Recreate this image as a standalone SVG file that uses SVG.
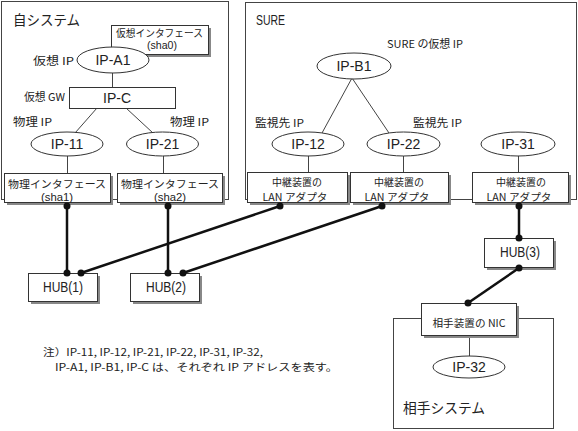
<svg xmlns="http://www.w3.org/2000/svg" width="578" height="431" viewBox="0 0 578 431">
<style>
.frame{fill:none;stroke:#444;stroke-width:1}
.box{fill:#fff;stroke:#333;stroke-width:1}
.sh{fill:#888}
.ell{fill:#fff;stroke:#333;stroke-width:1}
.thin{stroke:#444;stroke-width:1;fill:none}
.thick{stroke:#111;stroke-width:2.5;fill:none}
.dot{fill:#111}
.jp{font-family:"Noto Sans CJK JP","Liberation Sans",sans-serif;fill:#222}
.la{font-family:"Liberation Sans",sans-serif;fill:#222;font-size:14px}
.lt{font-family:"Liberation Sans",sans-serif;fill:#222}
.s10{font-size:10px}
.s105{font-size:10.5px}
.s11{font-size:11px}
.s14{font-size:14px}
.m{text-anchor:middle}
</style>
<rect width="578" height="431" fill="#fff"/>
<g id="frames">
<rect id="self-system-frame" class="frame" x="1.5" y="1.5" width="227" height="198"/>
<rect id="sure-frame" class="frame" x="245.5" y="2.5" width="331" height="197"/>
<rect id="peer-system-frame" class="frame" x="393.5" y="318.5" width="160" height="110"/>
</g>
<g id="connectors">
<line class="thin" x1="112.5" y1="73" x2="112.5" y2="87"/>
<line class="thin" x1="97" y1="108" x2="75" y2="133"/>
<line class="thin" x1="126" y1="108" x2="153" y2="133"/>
<line class="thin" x1="67.5" y1="156" x2="67.5" y2="173"/>
<line class="thin" x1="163.5" y1="156" x2="163.5" y2="173"/>
<line class="thin" x1="352" y1="78" x2="322" y2="133"/>
<line class="thin" x1="352" y1="78" x2="389" y2="133"/>
<line class="thin" x1="308.5" y1="155" x2="308.5" y2="172"/>
<line class="thin" x1="403.5" y1="155" x2="403.5" y2="172"/>
<line class="thin" x1="518.5" y1="155" x2="518.5" y2="172"/>
<line class="thin" x1="469.5" y1="335" x2="469.5" y2="356"/>
</g>
<g id="self-system-label"><text class="jp s14" x="13" y="25" textLength="67" lengthAdjust="spacingAndGlyphs">自システム</text></g>
<g id="sure-label"><text class="la" x="256" y="25" textLength="29" lengthAdjust="spacingAndGlyphs">SURE</text></g>
<g id="sha0">
<rect class="sh" x="114" y="28" width="97" height="29"/>
<rect class="box" x="111.5" y="25.5" width="97" height="29"/>
<text class="jp s10" x="116" y="36.5" textLength="87" lengthAdjust="spacingAndGlyphs">仮想インタフェース</text>
<text class="lt s10 m" x="162" y="49" textLength="30" lengthAdjust="spacingAndGlyphs">(sha0)</text>
</g>
<g id="ip-a1">
<text class="jp s11" x="33" y="65" textLength="41" lengthAdjust="spacingAndGlyphs">仮想 IP</text>
<ellipse class="ell" cx="113" cy="60" rx="36" ry="13"/>
<text class="la m" x="113" y="65">IP-A1</text>
</g>
<g id="ip-c">
<text class="jp s11" x="24" y="101" textLength="41" lengthAdjust="spacingAndGlyphs">仮想 GW</text>
<rect class="box" x="69.5" y="87.5" width="106" height="21"/>
<text class="la m" x="117" y="103">IP-C</text>
</g>
<g id="ip-11">
<text class="jp s11" x="13" y="126" textLength="39" lengthAdjust="spacingAndGlyphs">物理 IP</text>
<ellipse class="ell" cx="67" cy="144" rx="36" ry="12"/>
<text class="la m" x="67" y="149">IP-11</text>
</g>
<g id="ip-21">
<text class="jp s11" x="170" y="126" textLength="39" lengthAdjust="spacingAndGlyphs">物理 IP</text>
<ellipse class="ell" cx="162.5" cy="144" rx="36" ry="12"/>
<text class="la m" x="162.5" y="149">IP-21</text>
</g>
<g id="sha1">
<rect class="sh" x="7" y="176" width="106" height="29"/>
<rect class="box" x="4.5" y="173.5" width="106" height="29"/>
<text class="jp s105 m" x="57" y="188" textLength="98" lengthAdjust="spacingAndGlyphs">物理インタフェース</text>
<text class="lt s105 m" x="57" y="201" textLength="32" lengthAdjust="spacingAndGlyphs">(sha1)</text>
</g>
<g id="sha2">
<rect class="sh" x="120" y="176" width="105" height="29"/>
<rect class="box" x="117.5" y="173.5" width="105" height="29"/>
<text class="jp s105 m" x="170" y="188" textLength="98" lengthAdjust="spacingAndGlyphs">物理インタフェース</text>
<text class="lt s105 m" x="170" y="201" textLength="32" lengthAdjust="spacingAndGlyphs">(sha2)</text>
</g>
<g id="ip-b1">
<text class="jp s11" x="387" y="48" textLength="76" lengthAdjust="spacingAndGlyphs">SURE の仮想 IP</text>
<ellipse class="ell" cx="354" cy="66" rx="37" ry="13"/>
<text class="la m" x="354" y="71">IP-B1</text>
</g>
<g id="ip-12">
<text class="jp s11" x="255" y="127" textLength="49" lengthAdjust="spacingAndGlyphs">監視先 IP</text>
<ellipse class="ell" cx="308" cy="144" rx="36" ry="12"/>
<text class="la m" x="308" y="149">IP-12</text>
</g>
<g id="ip-22">
<text class="jp s11" x="413" y="127" textLength="49" lengthAdjust="spacingAndGlyphs">監視先 IP</text>
<ellipse class="ell" cx="403.5" cy="144" rx="36.5" ry="12"/>
<text class="la m" x="403.5" y="149">IP-22</text>
</g>
<g id="ip-31">
<ellipse class="ell" cx="518" cy="144" rx="37" ry="12"/>
<text class="la m" x="518" y="149">IP-31</text>
</g>
<g id="lan1">
<rect class="sh" x="250" y="175" width="100" height="30"/>
<rect class="box" x="247.5" y="172.5" width="100" height="30"/>
<text class="jp s10 m" x="297" y="185.5" textLength="50" lengthAdjust="spacingAndGlyphs">中継装置の</text>
<text class="jp s10 m" x="295" y="200.5" textLength="65" lengthAdjust="spacingAndGlyphs">LAN アダプタ</text>
</g>
<g id="lan2">
<rect class="sh" x="353" y="175" width="98" height="30"/>
<rect class="box" x="350.5" y="172.5" width="98" height="30"/>
<text class="jp s10 m" x="399" y="185.5" textLength="50" lengthAdjust="spacingAndGlyphs">中継装置の</text>
<text class="jp s10 m" x="397" y="200.5" textLength="65" lengthAdjust="spacingAndGlyphs">LAN アダプタ</text>
</g>
<g id="lan3">
<rect class="sh" x="475" y="175" width="96" height="30"/>
<rect class="box" x="472.5" y="172.5" width="96" height="30"/>
<text class="jp s10 m" x="521" y="185.5" textLength="50" lengthAdjust="spacingAndGlyphs">中継装置の</text>
<text class="jp s10 m" x="519" y="200.5" textLength="65" lengthAdjust="spacingAndGlyphs">LAN アダプタ</text>
</g>
<g id="hub1">
<rect class="sh" x="31" y="276" width="69" height="28"/>
<rect class="box" x="28.5" y="273.5" width="69" height="28"/>
<text class="la m" x="63" y="292" textLength="40" lengthAdjust="spacingAndGlyphs">HUB(1)</text>
</g>
<g id="hub2">
<rect class="sh" x="133" y="276" width="69" height="28"/>
<rect class="box" x="130.5" y="273.5" width="69" height="28"/>
<text class="la m" x="166" y="292" textLength="40" lengthAdjust="spacingAndGlyphs">HUB(2)</text>
</g>
<g id="hub3">
<rect class="sh" x="487" y="241" width="69" height="29"/>
<rect class="box" x="484.5" y="238.5" width="69" height="29"/>
<text class="la m" x="520" y="257" textLength="40" lengthAdjust="spacingAndGlyphs">HUB(3)</text>
</g>
<g id="nic">
<rect class="sh" x="424" y="306" width="95" height="32"/>
<rect class="box" x="421.5" y="303.5" width="95" height="32"/>
<text class="jp s10 m" x="469" y="327" textLength="73" lengthAdjust="spacingAndGlyphs">相手装置の NIC</text>
</g>
<g id="ip-32">
<ellipse class="ell" cx="469" cy="367" rx="36" ry="11"/>
<text class="la m" x="469" y="372">IP-32</text>
</g>
<g id="peer-system-label"><text class="jp s14" x="403" y="413" textLength="82" lengthAdjust="spacingAndGlyphs">相手システム</text></g>
<g id="links">
<line class="thick" x1="67" y1="206" x2="67" y2="273"/>
<line class="thick" x1="168" y1="206" x2="168" y2="273"/>
<line class="thick" x1="280" y1="206" x2="81" y2="273"/>
<line class="thick" x1="382" y1="206" x2="183" y2="273"/>
<line class="thick" x1="519" y1="206" x2="519" y2="238"/>
<line class="thick" x1="519" y1="268" x2="468" y2="303"/>
<circle class="dot" cx="67" cy="206" r="3.5"/>
<circle class="dot" cx="67" cy="273" r="3.5"/>
<circle class="dot" cx="168" cy="206" r="3.5"/>
<circle class="dot" cx="168" cy="273" r="3.5"/>
<circle class="dot" cx="280" cy="206" r="3.5"/>
<circle class="dot" cx="81" cy="273" r="3.5"/>
<circle class="dot" cx="382" cy="206" r="3.5"/>
<circle class="dot" cx="183" cy="273" r="3.5"/>
<circle class="dot" cx="519" cy="206" r="3.5"/>
<circle class="dot" cx="519" cy="238" r="3.5"/>
<circle class="dot" cx="519" cy="268" r="3.5"/>
<circle class="dot" cx="468" cy="303" r="3.5"/>
</g>
<g id="note">
<text class="jp s10" x="43" y="356" textLength="220" lengthAdjust="spacingAndGlyphs">注）IP-11, IP-12, IP-21, IP-22, IP-31, IP-32,</text>
<text class="jp s10" x="55" y="371" textLength="283" lengthAdjust="spacingAndGlyphs">IP-A1, IP-B1, IP-C は、それぞれ IP アドレスを表す。</text>
</g>
</svg>
